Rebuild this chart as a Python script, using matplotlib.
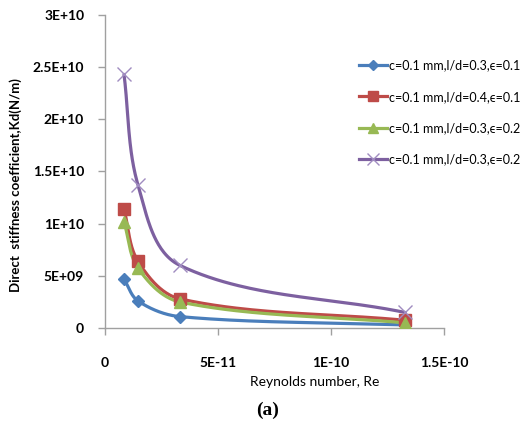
import numpy as np
import matplotlib
matplotlib.use("Agg")
import matplotlib.pyplot as plt
from matplotlib.lines import Line2D

# Reynolds number at each computed case
reynolds = [8.4e-12, 1.46e-11, 3.32e-11, 1.327e-10]

# Direct stiffness coefficient Kd (N/m) for each bearing configuration
kd_ld03_e01 = [4.7e9, 2.6e9, 1.1e9, 0.3e9]
kd_ld04_e01 = [11.4e9, 6.4e9, 2.8e9, 0.75e9]
kd_ld03_e02 = [10.2e9, 5.75e9, 2.5e9, 0.5e9]
kd_ld03_e02b = [24.3e9, 13.7e9, 6.0e9, 1.5e9]

labels = [
    "c=0.1 mm,l/d=0.3,\u03f5=0.1",
    "c=0.1 mm,l/d=0.4,\u03f5=0.1",
    "c=0.1 mm,l/d=0.3,\u03f5=0.2",
    "c=0.1 mm,l/d=0.3,\u03f5=0.2",
]

x_ticks = [0, 5e-11, 1e-10, 1.5e-10]
x_ticklabels = ["0", "5E-11", "1E-10", "1.5E-10"]
y_ticks = [0, 5e9, 1e10, 1.5e10, 2e10, 2.5e10, 3e10]
y_ticklabels = ["0", "5E+09", "1E+10", "1.5E+10", "2E+10", "2.5E+10", "3E+10"]

colors = ["#4a7ebb", "#be4b48", "#98b954", "#7d60a0"]
markers = ["D", "s", "^", "x"]
msizes = [6, 8, 8, 10]

font = ["Lato", "DejaVu Sans"]
plt.rcParams["font.family"] = font

XMAX, YMAX = 1.5e-10, 3e10
AX_W, AX_H = 339.0, 313.0  # axes size in pixels, used to smooth in screen space


def smooth(xs, ys, n=60):
    """Smooth Bezier curve through every point, tangents built in screen space."""
    p = np.column_stack([np.array(xs) / XMAX * AX_W,
                         np.array(ys) / YMAX * AX_H])
    k = len(p)
    tang = []
    for i in range(k):
        a = p[max(i - 1, 0)]
        b = p[min(i + 1, k - 1)]
        d = b - a
        tang.append(d / np.hypot(*d))
    out = [p[0]]
    for i in range(k - 1):
        p1, p2 = p[i], p[i + 1]
        L = np.hypot(*(p2 - p1)) / 3.0
        c1 = p1 + tang[i] * L
        c2 = p2 - tang[i + 1] * L
        t = np.linspace(0, 1, n)[1:, None]
        seg = ((1 - t) ** 3) * p1 + 3 * ((1 - t) ** 2) * t * c1 \
            + 3 * (1 - t) * t ** 2 * c2 + t ** 3 * p2
        out.extend(seg)
    out = np.array(out)
    return out[:, 0] / AX_W * XMAX, out[:, 1] / AX_H * YMAX


fig = plt.figure(figsize=(5.23, 4.25), dpi=100)
ax = fig.add_axes([0.2008, 0.228, 0.6482, 0.737])

series = [kd_ld03_e01, kd_ld04_e01, kd_ld03_e02, kd_ld03_e02b]
handles = []
for ys, c, m, ms, lab in zip(series, colors, markers, msizes, labels):
    sx, sy = smooth(reynolds, ys)
    ax.plot(sx, sy, color=c, lw=2.3, solid_capstyle="round", zorder=2)
    if m == "x":
        ax.plot(reynolds, ys, ls="none", marker=m, ms=ms, mew=1.0,
                color="#a08cc0", zorder=3)
    else:
        ax.plot(reynolds, ys, ls="none", marker=m, ms=ms, color=c,
                mec=c, zorder=3)
    handles.append(Line2D([0], [0], color=c, lw=2.3, marker=m,
                          ms=ms * 0.85,
                          mec=("#a08cc0" if m == "x" else c),
                          mfc=c, mew=1.0))

ax.set_xlim(0, XMAX)
ax.set_ylim(0, YMAX)
ax.set_xticks(x_ticks)
ax.set_xticklabels(x_ticklabels, fontweight="bold", fontsize=10)
ax.set_yticks(y_ticks)
ax.set_yticklabels(y_ticklabels, fontweight="bold", fontsize=10)

for side in ["top", "right"]:
    ax.spines[side].set_visible(False)
for side in ["left", "bottom"]:
    ax.spines[side].set_color("#a0a0a0")
    ax.spines[side].set_linewidth(1.0)
ax.tick_params(axis="both", direction="out", length=5, color="#a0a0a0",
               width=1.0)
ax.tick_params(axis="y", pad=10)
ax.tick_params(axis="x", pad=16)

fig.text(0.030, 0.565, "Direct  stiffness coefficient,Kd(N/m)", rotation=90,
         ha="center", va="center", fontsize=9.5, fontweight="bold")
fig.text(0.602, 0.101, "Reynolds number, Re", ha="center", va="center",
         fontsize=10)
fig.text(0.511, 0.035, "(a)", ha="center", va="center", fontsize=14,
         fontweight="bold", family="Liberation Serif")

fig.legend(handles, labels, loc="upper left", bbox_to_anchor=(0.676, 0.872),
           frameon=False, fontsize=9, handlelength=2.3, handletextpad=0.15,
           labelspacing=1.55, borderaxespad=0)

fig.savefig("out.png", dpi=100)
